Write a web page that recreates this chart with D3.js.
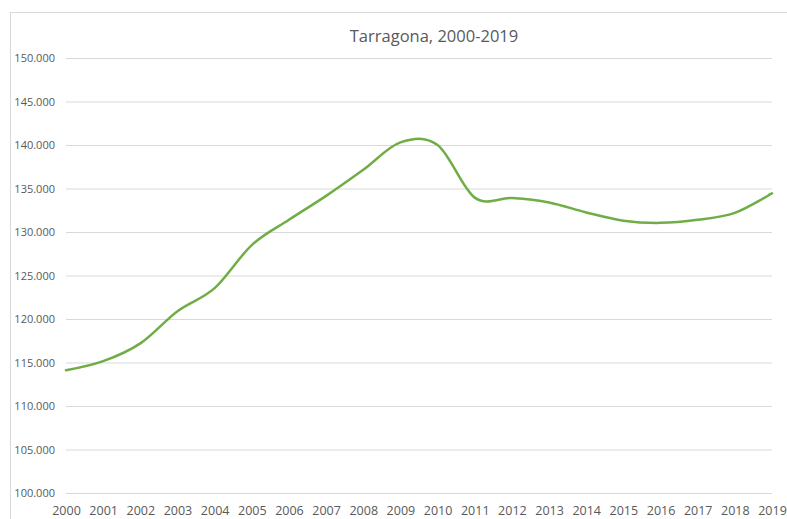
<!DOCTYPE html>
<html>
<head>
<meta charset="utf-8">
<script src="https://cdn.jsdelivr.net/npm/d3@7"></script>
<style>
  body { margin: 0; background: #fff; }
  text { font-family: "Open Sans", "Noto Sans", sans-serif; fill: #595959; }
</style>
</head>
<body>
<svg class="chart" width="787" height="519"></svg>
<script>
var title = "Tarragona, 2000-2019";
var years = [2000, 2001, 2002, 2003, 2004, 2005, 2006, 2007, 2008, 2009,
             2010, 2011, 2012, 2013, 2014, 2015, 2016, 2017, 2018, 2019];
var population = [114100, 115150, 117200, 120900, 123550, 128500, 131400, 134150, 137150, 140300,
                  140000, 133950, 133900, 133400, 132250, 131300, 131050, 131400, 132200, 134450];
var yTicks = [100000, 105000, 110000, 115000, 120000, 125000, 130000, 135000, 140000, 145000, 150000];

var svg = d3.select(".chart"),
    margin = { top: 58, right: 15, bottom: 26, left: 66 },
    width = +svg.attr("width") - margin.left - margin.right,
    height = +svg.attr("height") - margin.top - margin.bottom;

// chart frame
svg.append("rect")
    .attr("x", 10.5).attr("y", 12.5)
    .attr("width", 800).attr("height", 520)
    .attr("fill", "none")
    .attr("stroke", "#d9d9d9");

svg.append("text")
    .attr("x", 434).attr("y", 42)
    .attr("text-anchor", "middle")
    .style("font-size", "16.5px")
    .text(title);

var g = svg.append("g").attr("transform", "translate(" + margin.left + "," + margin.top + ")");

var x = d3.scaleLinear().domain([2000, 2019]).range([0, width]);
var y = d3.scaleLinear().domain([100000, 150000]).range([height, 0]);

var fmt = function (d) { return d3.format(",.0f")(d).replace(/,/g, "."); };

// gridlines + y labels
var yAxis = d3.axisLeft(y).tickValues(yTicks).tickSize(-width).tickPadding(11).tickFormat(fmt);
var gy = g.append("g").call(yAxis);
gy.select(".domain").remove();
gy.selectAll("line").attr("stroke", "#d9d9d9");
gy.selectAll("text").style("font-size", "11px").attr("fill", "#595959");

// x labels
var xAxis = d3.axisBottom(x).tickValues(years).tickSize(0).tickPadding(13).tickFormat(d3.format("d"));
var gx = g.append("g").attr("transform", "translate(0," + height + ")").call(xAxis);
gx.select(".domain").remove();
gx.selectAll("text").style("font-size", "12.5px").attr("fill", "#595959");

var line = d3.line()
    .x(function (d, i) { return x(years[i]); })
    .y(function (d) { return y(d); })
    .curve(d3.curveCatmullRom.alpha(0));

g.append("path")
    .datum(population)
    .attr("fill", "none")
    .attr("stroke", "#70ad47")
    .attr("stroke-width", 2.5)
    .attr("stroke-linecap", "round")
    .attr("d", line);
</script>
</body>
</html>
